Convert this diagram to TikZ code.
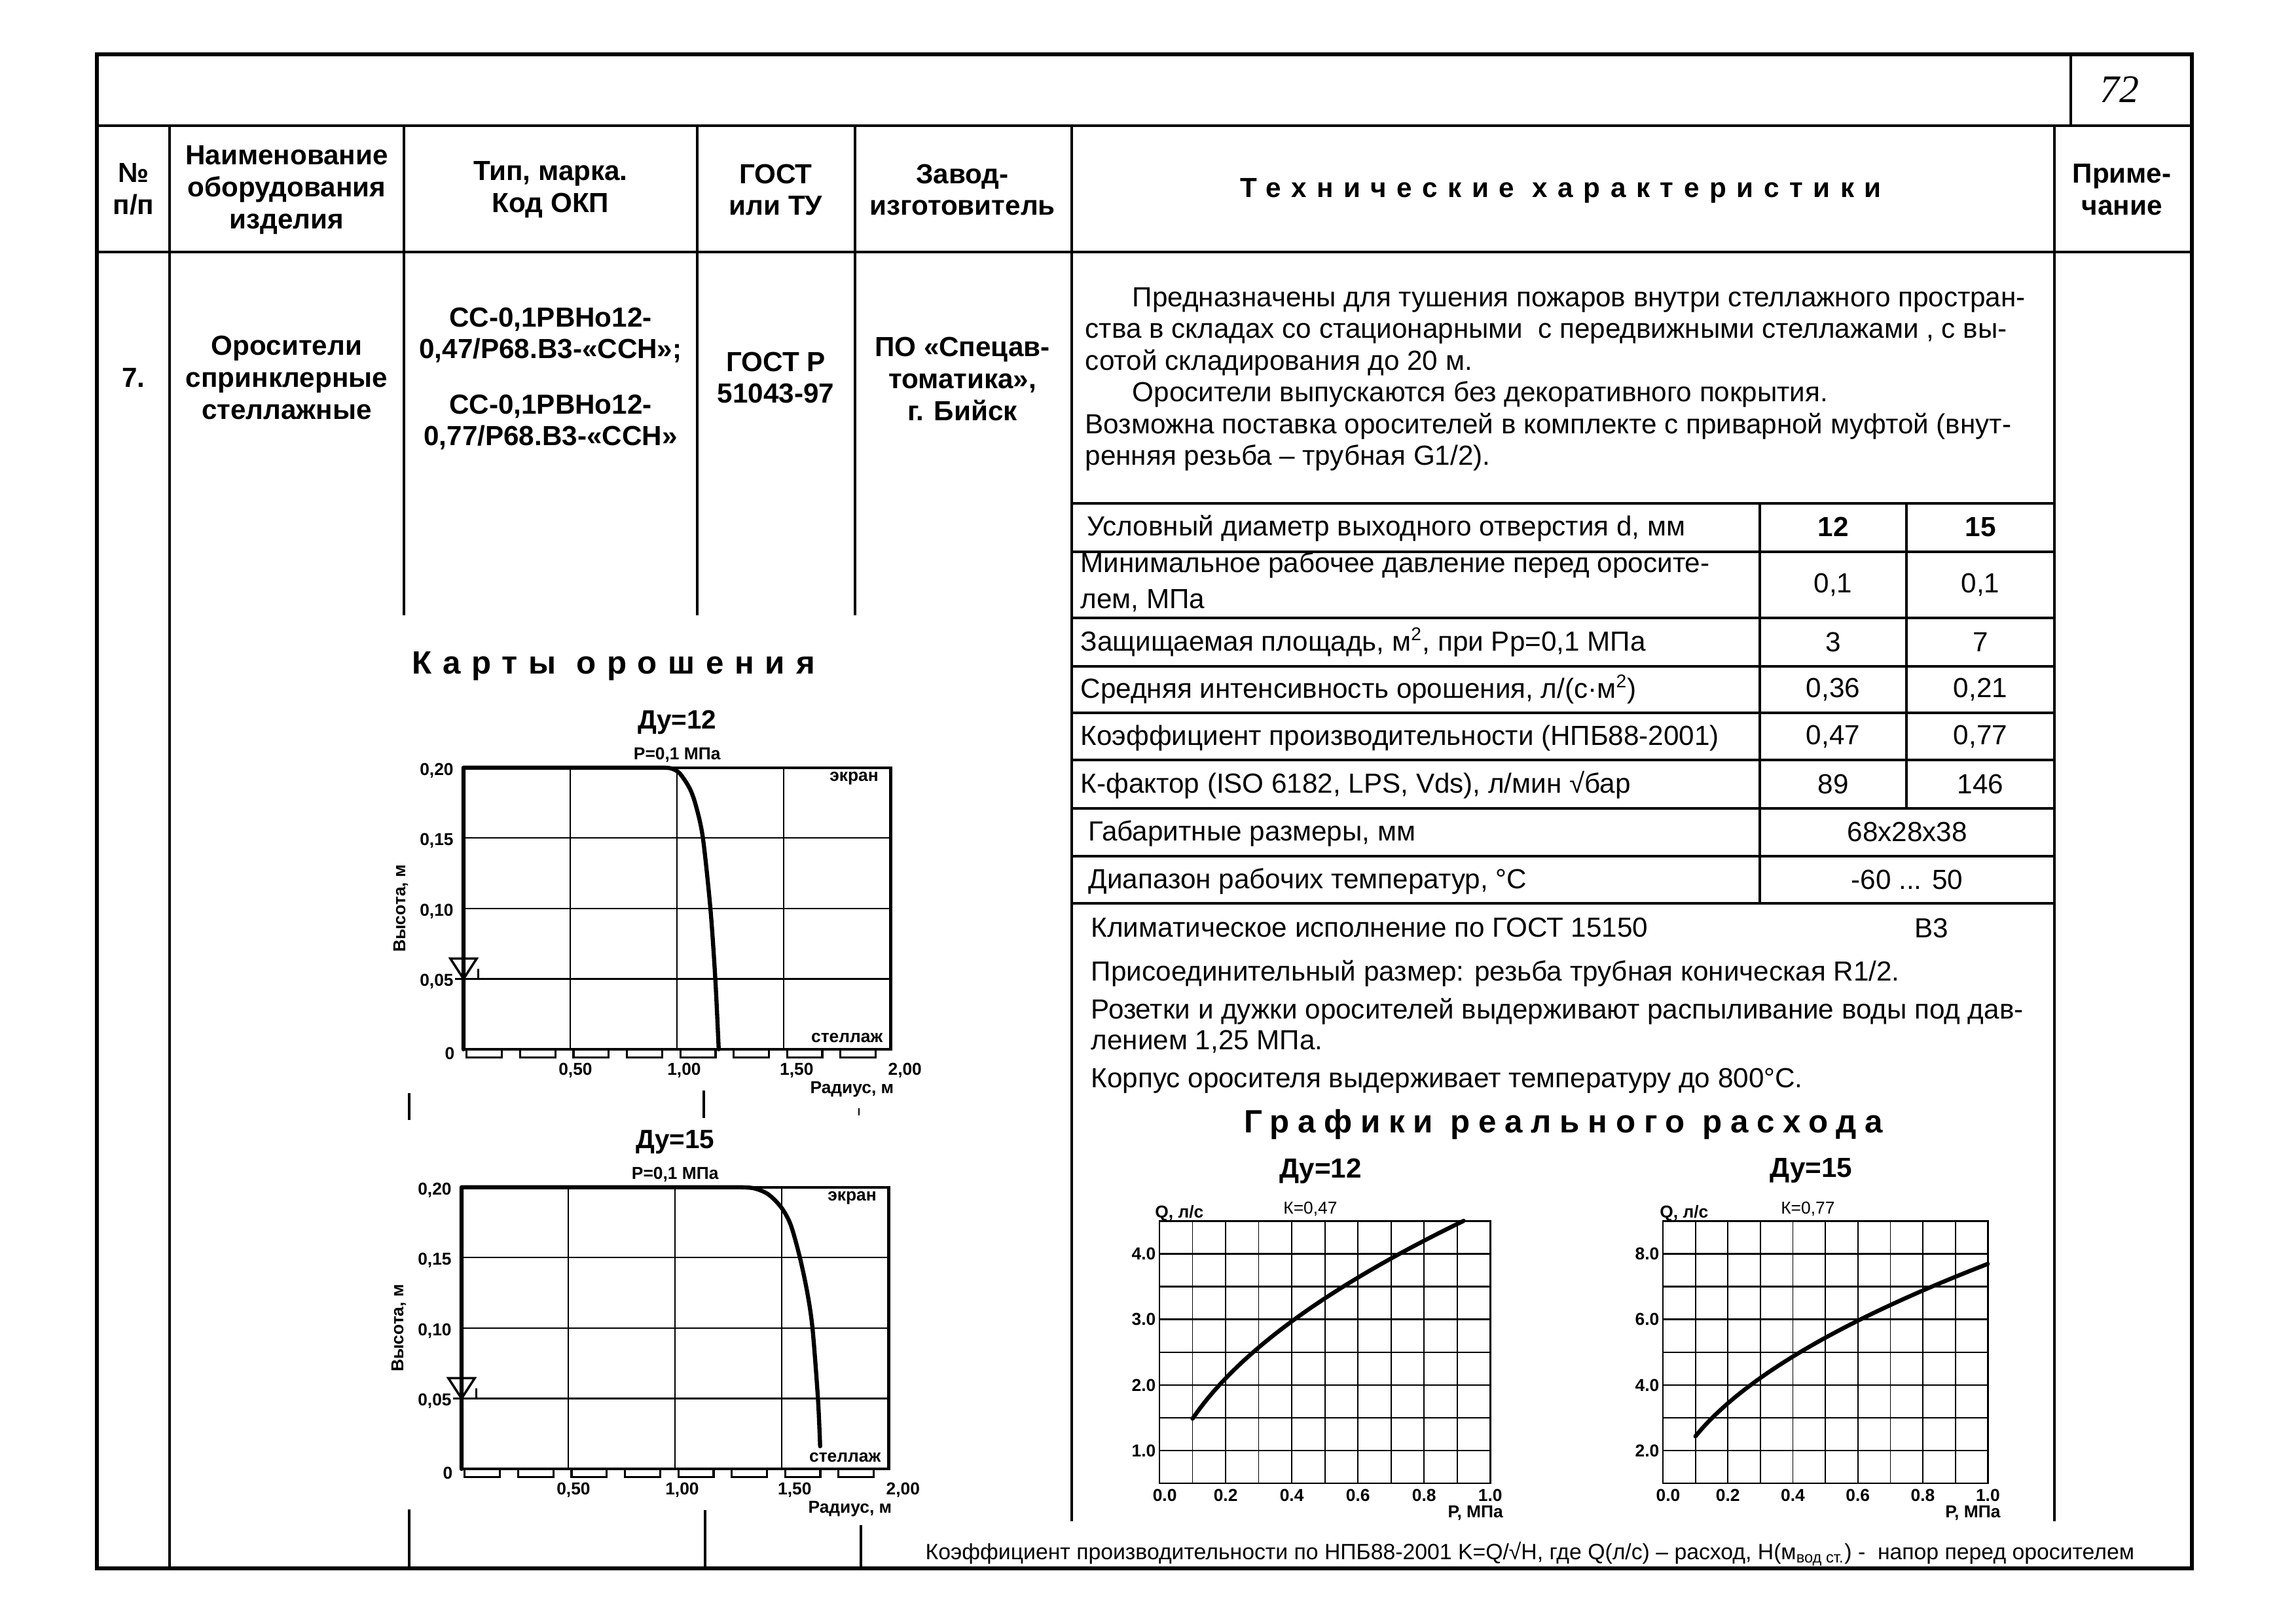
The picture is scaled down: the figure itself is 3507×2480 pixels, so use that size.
\documentclass[tikz,border=0pt]{standalone}
\usepackage{fontspec}
\setmainfont{Liberation Sans}
\newfontfamily\spacedA{Liberation Sans}[LetterSpace=37]
\newfontfamily\spacedB{Liberation Sans}[LetterSpace=34]
\newfontfamily\spacedC{Liberation Sans}[LetterSpace=26]
\newfontfamily\serifit{Liberation Serif}
\tikzset{
 frameln/.style={line width=1.7pt},
 ruleln/.style={line width=1.0pt},
 gridln/.style={line width=0.6pt},
 boxln/.style={line width=1.2pt},
 curveln/.style={line width=1.8pt, line cap=round, line join=round},
 rackln/.style={line width=0.9pt},
 hdr/.style={font=\fontsize{12}{13.9}\selectfont\bfseries, align=center, inner sep=0pt},
 txt/.style={font=\fontsize{12}{14}\selectfont, anchor=base west, inner sep=0pt},
 val/.style={font=\fontsize{12}{14}\selectfont, inner sep=0pt},
 valb/.style={font=\fontsize{12}{14}\selectfont\bfseries, inner sep=0pt},
 clab/.style={font=\fontsize{7.5}{9}\selectfont\bfseries, inner sep=0pt},
 ctitle/.style={font=\fontsize{11.5}{13}\selectfont\bfseries, inner sep=0pt},
 flab/.style={font=\fontsize{7.5}{9}\selectfont, inner sep=0pt},
}
\newcommand\mykarta[4]{%
\begin{scope}[shift={#2}, x=3.26cm, y=21.5cm]
  \foreach \r in {0.5,1,1.5} \draw[gridln] (\r,0) -- (\r,0.2);
  \foreach \h in {0.05,0.1,0.15} \draw[gridln] (0,\h) -- (2,\h);
  \draw[boxln] (0,0) rectangle (2,0.2);
  \foreach \k in {0,...,7} \draw[rackln] ({0.015+0.25*\k},0) rectangle ++(0.165,-0.0056);
  \draw[curveln] (0,0) -- (0,0.2) -- plot[smooth] coordinates {#4};
  \draw[line width=1pt] (-0.062,0.0645) -- (0.062,0.0645) -- (0,0.05) -- cycle;
  \draw[line width=0.8pt] (-0.04,0.05) -- (0,0.05);
  \draw[line width=0.8pt] (0.07,0.05) -- (0.07,0.057);
  \node[clab, anchor=east] (#1y20) at (-0.045,0.198) {0,20};
  \node[clab, anchor=east] (#1y15) at (-0.045,0.148) {0,15};
  \node[clab, anchor=east] (#1y10) at (-0.045,0.098) {0,10};
  \node[clab, anchor=east] (#1y05) at (-0.045,0.048) {0,05};
  \node[clab, anchor=east] (#1y00) at (-0.04,-0.003) {0};
  \node[clab] (#1x50) at (0.524,-0.015) {0,50};
  \node[clab] (#1x100) at (1.033,-0.015) {1,00};
  \node[clab] (#1x150) at (1.56,-0.015) {1,50};
  \node[clab] (#1x200) at (2.067,-0.015) {2,00};
  \node[clab, anchor=east] (#1rad) at (2.017,-0.0285) {Радиус, м};
  \node[clab, anchor=east] (#1scr) at (1.945,0.1925) {экран};
  \node[clab, anchor=east] (#1rack) at (1.965,0.008) {стеллаж};
  \node[clab, rotate=90] (#1hgt) at (-0.294,0.1) {Высота, м};
  \node[ctitle] (#1title) at (1,0.232) {#3};
  \node[clab] (#1p) at (1,0.209) {Р=0,1 МПа};
\end{scope}}
\begin{document}
\begin{tikzpicture}[x=0.01cm,y=-0.01cm]
\useasboundingbox (0,0) rectangle (3507,2480);
% frame and rules
\draw[frameln] (148,83) rectangle (3348,2396);
\draw[ruleln] (148,192) -- (3348,192);
\draw[ruleln] (3163,83) -- (3163,192);
\draw[ruleln] (148,385) -- (3348,385);
\draw[ruleln] (259,192) -- (259,2396);
\draw[ruleln] (617,192) -- (617,940);
\draw[ruleln] (1065,192) -- (1065,940);
\draw[ruleln] (1306,192) -- (1306,940);
\draw[ruleln] (1637,192) -- (1637,2324);
\draw[ruleln] (3138,192) -- (3138,2324);
% remnants of column rules
\draw[ruleln] (625,1670) -- (625,1711);
\draw[ruleln] (1075,1666) -- (1075,1708);
\draw[line width=0.7pt] (1312,1693) -- (1312,1704);
\draw[ruleln] (625,2306) -- (625,2396);
\draw[ruleln] (1077,2307) -- (1077,2396);
\draw[ruleln] (1315,2330) -- (1315,2396);
% inner table
\foreach \yy in {769,843,944,1018,1089,1161,1235,1308,1380} \draw[ruleln] (1637,\yy) -- (3138,\yy);
\draw[ruleln] (2688,769) -- (2688,1380);
\draw[ruleln] (2912,769) -- (2912,1235);
% page number
\node[font=\fontsize{17}{20}\selectfont\serifit\itshape, inner sep=0pt] (pg) at (3237,137) {72};
% header
\node[hdr] (hNo) at (204,289) {№\\п/п};
\node[hdr] (hName) at (438,290) {Наименование\\оборудования\\изделия};
\node[hdr] (hType) at (841,290) {Тип, марка.\\Код ОКП};
\node[hdr] (hGost) at (1185,290) {ГОСТ\\или ТУ};
\node[hdr] (hMaker) at (1470,290) {Завод-\\изготовитель};
\node[font=\fontsize{12}{14}\selectfont\spacedA\bfseries, inner sep=0pt] (hTech) at (2384,291) {Технические характеристики};
\node[hdr] (hNote) at (3241,290) {Приме-\\чание};
% row 7
\node[hdr] (n7) at (204,577) {7.};
\node[hdr] (name) at (438,577) {Оросители\\спринклерные\\стеллажные};
\node[hdr] (type1) at (841,512) {СС-0,1РВНо12-\\0,47/Р68.В3-«ССН»;};
\node[hdr] (type2) at (841,645) {СС-0,1РВНо12-\\0,77/Р68.В3-«ССН»};
\node[hdr] (gost) at (1185,577) {ГОСТ Р\\51043-97};
\node[hdr] (maker) at (1470,579) {ПО «Спецав-\\томатика»,\\г. Бийск};
% description
\node[txt] (p1) at (1729,468) {Предназначены для тушения пожаров внутри стеллажного простран-};
\node[txt] (p2) at (1657,516) {ства в складах со стационарными \ с передвижными стеллажами , с вы-};
\node[txt] (p3) at (1657,565) {сотой складирования до 20 м.};
\node[txt] (p4) at (1729,613) {Оросители выпускаются без декоративного покрытия.};
\node[txt] (p5) at (1657,662) {Возможна поставка оросителей в комплекте с приварной муфтой (внут-};
\node[txt] (p6) at (1657,710) {ренняя резьба – трубная G1/2).};
% table rows
\node[txt] (r1) at (1660,818) {Условный диаметр выходного отверстия d, мм};
\node[valb] (r1a) at (2800,805) {12};
\node[valb] (r1b) at (3025,805) {15};
\node[txt] (r2a) at (1650,874) {Минимальное рабочее давление перед оросите-};
\node[txt] (r2b) at (1650,929) {лем, МПа};
\node[val] (r2v1) at (2800,893) {0,1};
\node[val] (r2v2) at (3025,893) {0,1};
\node[txt] (r3) at (1650,994) {Защищаемая площадь, м\textsuperscript{2}, при Рр=0,1 МПа};
\node[val] (r3v1) at (2800,981) {3};
\node[val] (r3v2) at (3025,981) {7};
\node[txt] (r4) at (1650,1066) {Средняя интенсивность орошения, л/(с·м\textsuperscript{2})};
\node[val] (r4v1) at (2800,1053) {0,36};
\node[val] (r4v2) at (3025,1053) {0,21};
\node[txt] (r5) at (1650,1138) {Коэффициент производительности (НПБ88-2001)};
\node[val] (r5v1) at (2800,1125) {0,47};
\node[val] (r5v2) at (3025,1125) {0,77};
\node[txt] (r6) at (1650,1211) {К-фактор (ISO 6182, LPS, Vds), л/мин √бар};
\node[val] (r6v1) at (2800,1198) {89};
\node[val] (r6v2) at (3025,1198) {146};
\node[txt] (r7) at (1662,1284) {Габаритные размеры, мм};
\node[val] (r7v) at (2913,1271) {68x28x38};
\node[txt] (r8) at (1662,1357) {Диапазон рабочих температур, °С};
\node[val] (r8v) at (2913,1344) {-60 ... 50};
% notes
\node[txt] (c1) at (1666,1431) {Климатическое исполнение по ГОСТ 15150};
\node[val] (c1v) at (2950,1418) {В3};
\node[txt] (c2) at (1666,1498) {Присоединительный размер: резьба трубная коническая R1/2.};
\node[txt] (c3) at (1666,1556) {Розетки и дужки оросителей выдерживают распыливание воды под дав-};
\node[txt] (c4) at (1666,1603) {лением 1,25 МПа.};
\node[txt] (c5) at (1666,1661) {Корпус оросителя выдерживает температуру до 800°С.};
% section titles
\node[font=\fontsize{14}{16}\selectfont\spacedB\bfseries, inner sep=0pt] (tKarty) at (937,1018) {Карты орошения};
\node[font=\fontsize{14}{16}\selectfont\spacedC\bfseries, inner sep=0pt] (tGraf) at (2388,1718) {Графики реального расхода};
% spray maps
\mykarta{ka}{(708,1603)}{Ду=12}{(0.93,0.2) (0.972,0.1995) (1.012,0.196) (1.06,0.185) (1.09,0.172) (1.121,0.15) (1.156,0.10) (1.179,0.05) (1.195,0)}
\mykarta{kb}{(705,2244)}{Ду=15}{(1.30,0.2) (1.369,0.1993) (1.436,0.195) (1.498,0.1855) (1.542,0.173) (1.586,0.149) (1.621,0.1235) (1.644,0.0988) (1.669,0.0496) (1.679,0.0161)}
% flow chart 1
\begin{scope}[shift={(1771,2316)}, x=5.05cm, y=1cm]
  \foreach \p in {0.1,0.2,...,0.95} \draw[line width=0.5pt] (\p,0.5) -- (\p,4.5);
  \foreach \q in {1,1.5,...,4.1} \draw[line width=0.8pt] (0,\q) -- (1,\q);
  \draw[line width=0.8pt] (0,0.5) rectangle (1,4.5);
  \draw[curveln] plot[domain=0.1:0.92, samples=40, smooth] (\x,{4.7*sqrt(\x)});
  \foreach \q/\n in {1/a,2/b,3/c,4/d} \node[clab, anchor=east] (fa\n) at (-0.01,\q) {\q.0};
  \node[clab] (fax0) at (0.016,0.32) {0.0};
  \foreach \p/\n in {0.2/a,0.4/b,0.6/c,0.8/d} \node[clab] (fax\n) at (\p,0.32) {\p};
  \node[clab] (fax1) at (1,0.32) {1.0};
  \node[clab, anchor=east] (faP) at (1.04,0.05) {Р, МПа};
  \node[clab] (faQ) at (0.06,4.62) {Q, л/с};
  \node[flab] (faK) at (0.456,4.69) {К=0,47};
  \node[ctitle, font=\fontsize{12}{14}\selectfont\bfseries] (faT) at (0.487,5.27) {Ду=12};
\end{scope}
% flow chart 2
\begin{scope}[shift={(2540,2316)}, x=4.96cm, y=0.5cm]
  \foreach \p in {0.1,0.2,...,0.95} \draw[line width=0.5pt] (\p,1) -- (\p,9);
  \foreach \q in {2,...,8} \draw[line width=0.8pt] (0,\q) -- (1,\q);
  \draw[line width=0.8pt] (0,1) rectangle (1,9);
  \draw[curveln] plot[domain=0.1:1, samples=40, smooth] (\x,{7.7*sqrt(\x)});
  \foreach \q/\n in {2/a,4/b,6/c,8/d} \node[clab, anchor=east] (fb\n) at (-0.01,\q) {\q.0};
  \node[clab] (fbx0) at (0.016,0.64) {0.0};
  \foreach \p/\n in {0.2/a,0.4/b,0.6/c,0.8/d} \node[clab] (fbx\n) at (\p,0.64) {\p};
  \node[clab] (fbx1) at (1,0.64) {1.0};
  \node[clab, anchor=east] (fbP) at (1.04,0.1) {Р, МПа};
  \node[clab] (fbQ) at (0.065,9.24) {Q, л/с};
  \node[flab] (fbK) at (0.446,9.38) {К=0,77};
  \node[ctitle, font=\fontsize{12}{14}\selectfont\bfseries] (fbT) at (0.456,10.54) {Ду=15};
\end{scope}
% footnote
\node[font=\fontsize{9.6}{11}\selectfont, anchor=base west, inner sep=0pt] (foot) at (1413,2382) {Коэффициент производительности по НПБ88-2001 K=Q/√H, где Q(л/с) – расход, H(м\textsubscript{вод ст.}) - \ напор перед оросителем};
\end{tikzpicture}
\end{document}
